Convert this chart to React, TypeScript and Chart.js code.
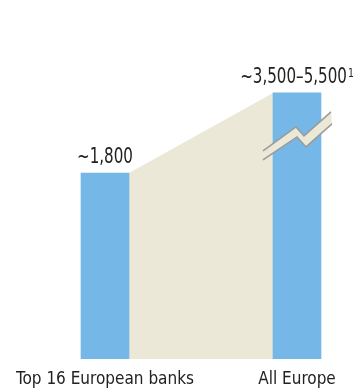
import React, { useEffect, useLayoutEffect, useRef } from "react";
import { Chart, registerables } from "chart.js";

Chart.register(...registerables);

// Data
const categories = ["Top 16 European banks", "All Europe"];
const categoryPositions = [1, 3];
// Second bar is drawn truncated (broken bar) – its visual height in chart units
const barValues = [1800, 2575];
const valueLabels = ["~1,800", "~3,500\u20135,500"];
const footnoteMarks = ["", "1"];

const FONT = "'DejaVu Sans Condensed', 'Liberation Sans Narrow', sans-serif";
const BLUE = "#75B7E6";
const BEIGE = "#EBE8D8";
const TEXT = "#222222";

const labelPlugin = {
  id: "valueLabels",
  afterDatasetsDraw(chart: any) {
    const meta = chart.getDatasetMeta(1);
    const ctx = chart.ctx;

    // break symbol on second bar
    const b = meta.data[1];
    if (b) {
      ctx.save();
      const cx = b.x;
      const ty = b.y;
      const upper = [
        [-34, 58],
        [-1, 34],
        [7, 43],
        [34, 19],
      ];
      const lower = [
        [-34, 67],
        [0, 44],
        [9, 54],
        [35, 31],
      ];
      ctx.beginPath();
      upper.forEach(([dx, dy], k) => {
        if (k === 0) ctx.moveTo(cx + dx, ty + dy);
        else ctx.lineTo(cx + dx, ty + dy);
      });
      for (let k = lower.length - 1; k >= 0; k--) {
        ctx.lineTo(cx + lower[k][0], ty + lower[k][1]);
      }
      ctx.closePath();
      ctx.fillStyle = BEIGE;
      ctx.fill();
      ctx.strokeStyle = "#9A9A9A";
      ctx.lineWidth = 1.5;
      [upper, lower].forEach((pts) => {
        ctx.beginPath();
        pts.forEach(([dx, dy], k) => {
          if (k === 0) ctx.moveTo(cx + dx, ty + dy);
          else ctx.lineTo(cx + dx, ty + dy);
        });
        ctx.stroke();
      });
      ctx.restore();
    }

    const sx = 0.8;
    meta.data.forEach((el: any, i: number) => {
      ctx.save();
      ctx.fillStyle = TEXT;
      ctx.textAlign = "left";
      ctx.textBaseline = "alphabetic";
      ctx.font = `21px ${FONT}`;
      const mainW = ctx.measureText(valueLabels[i]).width * sx;
      ctx.font = `13px ${FONT}`;
      const supW = footnoteMarks[i] ? ctx.measureText(footnoteMarks[i]).width * sx + 1 : 0;
      const x0 = el.x - (mainW + supW) / 2;
      const y0 = el.y - 10;
      ctx.save();
      ctx.translate(x0, y0);
      ctx.scale(sx, 1);
      ctx.font = `21px ${FONT}`;
      ctx.fillText(valueLabels[i], 0, 0);
      ctx.restore();
      if (footnoteMarks[i]) {
        ctx.translate(x0 + mainW + 1, y0 - 6);
        ctx.scale(sx, 1);
        ctx.font = `13px ${FONT}`;
        ctx.fillText(footnoteMarks[i], 0, 0);
      }
      ctx.restore();
    });
  },
};

export default function App() {
  const ref = useRef<HTMLCanvasElement | null>(null);
  useLayoutEffect(() => {
    document.body.style.margin = "0";
  }, []);
  useEffect(() => {
    if (!ref.current) return;
    const half = 0.25;
    const chart = new Chart(ref.current, {
      type: "bar",
      data: {
        datasets: [
          {
            type: "line",
            data: [
              { x: categoryPositions[0] + half, y: barValues[0] },
              { x: categoryPositions[1] - half, y: barValues[1] },
            ],
            backgroundColor: BEIGE,
            borderWidth: 0,
            pointRadius: 0,
            fill: "origin",
            tension: 0,
            order: 2,
          } as any,
          {
            type: "bar",
            data: categoryPositions.map((x, i) => ({ x, y: barValues[i] })),
            backgroundColor: BLUE,
            barThickness: 48,
            borderWidth: 0,
            order: 1,
          } as any,
        ],
      },
      options: {
        animation: false,
        responsive: false,
        layout: { padding: { top: 49, left: 57, right: 11, bottom: 0 } },
        plugins: { legend: { display: false }, tooltip: { enabled: false } },
        scales: {
          x: {
            type: "linear",
            offset: false,
            min: 0.5,
            max: 3.5,
            grid: { display: false, drawTicks: false },
            border: { display: false },
            afterBuildTicks: (axis: any) => {
              axis.ticks = categoryPositions.map((v) => ({ value: v }));
            },
            afterFit: (axis: any) => {
              axis.paddingLeft = 0;
              axis.paddingRight = 0;
              axis.height = 31;
            },
            ticks: {
              padding: 10,
              color: TEXT,
              font: { family: FONT, size: 17 },
              maxRotation: 0,
              autoSkip: false,
              callback: (v: any) => {
                const i = categoryPositions.indexOf(Number(v));
                return i >= 0 ? categories[i] : "";
              },
            },
          },
          y: { display: false, min: 0, max: 3000 },
        },
      } as any,
      plugins: [labelPlugin],
    });
    return () => chart.destroy();
  }, []);
  return (
    <div style={{ width: 356, height: 390, overflow: "hidden" }}>
      <style>{"body{margin:0}"}</style>
      <canvas ref={ref} width={356} height={390} style={{ display: "block" }} />
    </div>
  );
}
